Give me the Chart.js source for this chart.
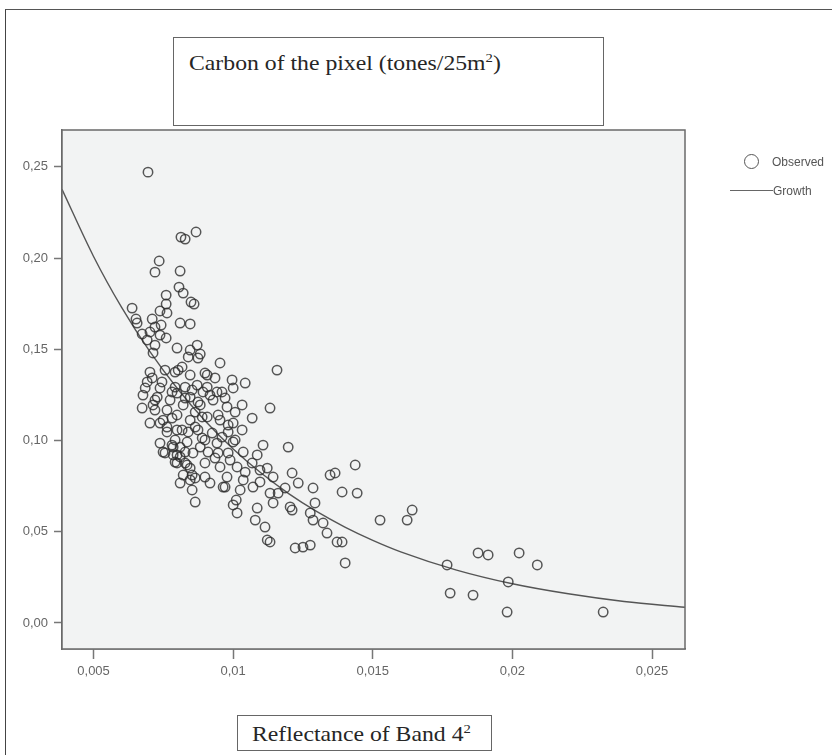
<!DOCTYPE html>
<html>
<head>
<meta charset="utf-8">
<script src="https://cdn.jsdelivr.net/npm/chart.js@4"></script>
<style>
  body { margin: 0; background: #fff; overflow: hidden; }
  #wrap { position: relative; width: 832px; height: 755px; overflow: hidden; }
  #frame { position: absolute; left: 5px; top: 9px; width: 900px; height: 900px;
           border-left: 1.5px solid #444; border-top: 1.5px solid #555; }
  canvas { position: absolute; left: 0; top: 0; }
  .box { position: absolute; border: 1.5px solid #666; background: #fff;
         font-family: "Liberation Serif", "DejaVu Serif", serif; color: #262626; }
  .box span { position: absolute; white-space: nowrap; transform: scaleX(1.13); transform-origin: left top; }
  #title { left: 173px; top: 37px; width: 429px; height: 87px; font-size: 21px; }
  #title span { left: 15px; top: 12px; }
  #xlabel { left: 237px; top: 715px; width: 253px; height: 34px; font-size: 21px; }
  #xlabel span { left: 14px; top: 5px; }
  sup { font-size: 13px; }
  .leg { position: absolute; font-family: "Liberation Sans Narrow", "Liberation Sans", sans-serif;
         font-size: 12px; color: #555; white-space: nowrap; line-height: 14px; }
  #legDot { position: absolute; left: 744px; top: 154px; width: 13px; height: 13px;
            border: 1.5px solid #555; border-radius: 50%; }
  #legLine { position: absolute; left: 730px; top: 190px; width: 43px; height: 0;
             border-top: 1.3px solid #666; }
</style>
</head>
<body>
<div id="wrap">
  <div id="frame"></div>
  <canvas id="chart" width="832" height="755"></canvas>
  <div class="box" id="title"><span>Carbon of the pixel (tones/25m<sup>2</sup>)</span></div>
  <div class="box" id="xlabel"><span>Reflectance of Band 4<sup>2</sup></span></div>
  <div id="legDot"></div>
  <div class="leg" style="left:772px; top:155px;">Observed</div>
  <div id="legLine"></div>
  <div class="leg" style="left:773px; top:184px;">Growth</div>
</div>
<script>
// observed pixels: [reflectance of band 4 squared, carbon]
const observed = [
  [0.00695, 0.2471], [0.00813, 0.2115], [0.00828, 0.2104], [0.00867, 0.2143],
  [0.00735, 0.1984], [0.00720, 0.1923], [0.00810, 0.1929], [0.00806, 0.1841],
  [0.00821, 0.1808], [0.00760, 0.1797], [0.00849, 0.1759], [0.00860, 0.1748],
  [0.00760, 0.1748], [0.00638, 0.1726], [0.00738, 0.1710], [0.00763, 0.1699],
  [0.00652, 0.1666], [0.00710, 0.1666], [0.00810, 0.1644], [0.00846, 0.1639],
  [0.00720, 0.1622], [0.00702, 0.1595], [0.00738, 0.1578], [0.00674, 0.1584],
  [0.00760, 0.1562], [0.00692, 0.1551], [0.00720, 0.1523], [0.00799, 0.1507],
  [0.00846, 0.1496], [0.00713, 0.1480], [0.00656, 0.1644], [0.00742, 0.1633],
  [0.00871, 0.1523], [0.00882, 0.1474], [0.00839, 0.1458], [0.00874, 0.1452],
  [0.00953, 0.1425], [0.01157, 0.1386], [0.00702, 0.1375], [0.00756, 0.1386],
  [0.00803, 0.1386], [0.00846, 0.1359], [0.00907, 0.1359], [0.00692, 0.1321],
  [0.00745, 0.1321], [0.00792, 0.1293], [0.00871, 0.1304], [0.00935, 0.1343],
  [0.00996, 0.1332], [0.01043, 0.1315], [0.00677, 0.1249], [0.00728, 0.1238],
  [0.00799, 0.1260], [0.00846, 0.1238], [0.00892, 0.1266], [0.00942, 0.1266],
  [0.01000, 0.1288], [0.00674, 0.1178], [0.00713, 0.1195], [0.00763, 0.1167],
  [0.00821, 0.1195], [0.00882, 0.1195], [0.00928, 0.1222], [0.00978, 0.1184],
  [0.01032, 0.1195], [0.01132, 0.1178], [0.00702, 0.1096], [0.00749, 0.1112],
  [0.00799, 0.1140], [0.00846, 0.1112], [0.00907, 0.1129], [0.00953, 0.1112],
  [0.01000, 0.1096], [0.01068, 0.1123], [0.00763, 0.1047], [0.00817, 0.1058],
  [0.00874, 0.1058], [0.00925, 0.1041], [0.00982, 0.1047], [0.00738, 0.0986],
  [0.00781, 0.0975], [0.00835, 0.0992], [0.00889, 0.1014], [0.00942, 0.0986],
  [0.01000, 0.0992], [0.01107, 0.0975], [0.01197, 0.0964], [0.00756, 0.0932],
  [0.00810, 0.0910], [0.00856, 0.0932], [0.00910, 0.0937], [0.00982, 0.0932],
  [0.01036, 0.0937], [0.01086, 0.0921], [0.00799, 0.0877], [0.00846, 0.0849],
  [0.00899, 0.0877], [0.00953, 0.0855], [0.01014, 0.0855], [0.01068, 0.0877],
  [0.01122, 0.0849], [0.00810, 0.0767], [0.00864, 0.0795], [0.00917, 0.0767],
  [0.00978, 0.0800], [0.01036, 0.0784], [0.01096, 0.0773], [0.01143, 0.0800],
  [0.01211, 0.0822], [0.00853, 0.0729], [0.00864, 0.0663], [0.00964, 0.0745],
  [0.01025, 0.0729], [0.01071, 0.0745], [0.01132, 0.0712], [0.01186, 0.0740],
  [0.01000, 0.0647], [0.01014, 0.0603], [0.01086, 0.0630], [0.01143, 0.0658],
  [0.01211, 0.0619], [0.00785, 0.0964], [0.00799, 0.0921], [0.00828, 0.0877],
  [0.01079, 0.0564], [0.01114, 0.0526], [0.01122, 0.0455], [0.01011, 0.0674],
  [0.01233, 0.0767], [0.01286, 0.0740], [0.01293, 0.0658], [0.01347, 0.0811],
  [0.01365, 0.0822], [0.01437, 0.0866], [0.01390, 0.0718], [0.01444, 0.0712],
  [0.01204, 0.0636], [0.01276, 0.0603], [0.01286, 0.0564], [0.01322, 0.0548],
  [0.01336, 0.0493], [0.01372, 0.0444], [0.01390, 0.0444], [0.01222, 0.0411],
  [0.01250, 0.0416], [0.01276, 0.0427], [0.01132, 0.0444], [0.01401, 0.0329],
  [0.01526, 0.0564], [0.01623, 0.0564], [0.01641, 0.0619], [0.01766, 0.0318],
  [0.01877, 0.0384], [0.01913, 0.0373], [0.02024, 0.0384], [0.02089, 0.0318],
  [0.01985, 0.0225], [0.01777, 0.0164], [0.01859, 0.0153], [0.01981, 0.0060],
  [0.02325, 0.0060], [0.01161, 0.0712], [0.00710, 0.1343], [0.00792, 0.1375],
  [0.00817, 0.1403], [0.00720, 0.1222], [0.00720, 0.1167], [0.00781, 0.1123],
  [0.00738, 0.1096], [0.00763, 0.1074], [0.00799, 0.1058], [0.00810, 0.0964],
  [0.00749, 0.0937], [0.00785, 0.0921], [0.00828, 0.0937], [0.00792, 0.0882],
  [0.00835, 0.0866], [0.00821, 0.0811], [0.00853, 0.0811], [0.00685, 0.1288],
  [0.00738, 0.1288], [0.00781, 0.1266], [0.00828, 0.1293], [0.00899, 0.1370],
  [0.00853, 0.1277], [0.00907, 0.1293], [0.00960, 0.1266], [0.00874, 0.1211],
  [0.00889, 0.1129], [0.00946, 0.1140], [0.01007, 0.1156], [0.00864, 0.1074],
  [0.00982, 0.1085], [0.01032, 0.1058], [0.00899, 0.1003], [0.00960, 0.1019],
  [0.01007, 0.1003], [0.00946, 0.0932], [0.00846, 0.0784], [0.00899, 0.0800],
  [0.00971, 0.0745], [0.00828, 0.1233], [0.00774, 0.1222], [0.00864, 0.1156],
  [0.00971, 0.1233], [0.00917, 0.1249], [0.00839, 0.1047], [0.00792, 0.1003],
  [0.00882, 0.0964], [0.00935, 0.0904], [0.00989, 0.0893], [0.01043, 0.0827],
  [0.01096, 0.0838]
];

// growth fit
const growthX = [0.00387, 0.005, 0.006, 0.007, 0.008, 0.009, 0.010, 0.011, 0.012,
                 0.013, 0.014, 0.015, 0.016, 0.018, 0.020, 0.022, 0.024, 0.02618];
const growthY = [0.2377, 0.2009, 0.1731, 0.1491, 0.1285, 0.1107, 0.0954, 0.0822, 0.0708,
                 0.0610, 0.0526, 0.0453, 0.0390, 0.0290, 0.0215, 0.0160, 0.0118, 0.0086];

const xTicks = [0.005, 0.01, 0.015, 0.02, 0.025];
const xTickLabels = ['0,005', '0,01', '0,015', '0,02', '0,025'];
const yTicks = [0, 0.05, 0.10, 0.15, 0.20, 0.25];
const yTickLabels = ['0,00', '0,05', '0,10', '0,15', '0,20', '0,25'];

const plotBox = {
    id: 'plotBox',
    beforeDatasetsDraw(chart) {
        const a = chart.chartArea, ctx = chart.ctx;
        ctx.save();
        ctx.fillStyle = '#f2f3f3';
        ctx.fillRect(a.left, a.top, a.right - a.left, a.bottom - a.top);
        ctx.restore();
    },
    afterDraw(chart) {
        const a = chart.chartArea, ctx = chart.ctx;
        ctx.save();
        ctx.strokeStyle = '#6a6a6a';
        ctx.lineWidth = 1.5;
        ctx.strokeRect(a.left, a.top, a.right - a.left, a.bottom - a.top);
        ctx.restore();
    }
};

const tickFont = { family: '"Liberation Sans", sans-serif', size: 13 };

new Chart(document.getElementById('chart'), {
    type: 'scatter',
    data: {
        datasets: [{
            label: 'Observed',
            data: observed.map(p => ({ x: p[0], y: p[1] })),
            pointStyle: 'circle',
            pointRadius: 4.7,
            borderWidth: 1.5,
            borderColor: 'rgba(45,45,45,0.8)',
            backgroundColor: 'rgba(0,0,0,0)'
        }, {
            label: 'Growth',
            type: 'line',
            data: growthX.map((x, i) => ({ x: x, y: growthY[i] })),
            borderColor: '#555',
            borderWidth: 1.4,
            pointRadius: 0,
            cubicInterpolationMode: 'monotone',
            fill: false
        }]
    },
    options: {
        responsive: false,
        animation: false,
        layout: { padding: { left: 12, top: 130, right: 147, bottom: 66 } },
        plugins: { legend: { display: false }, tooltip: { enabled: false } },
        scales: {
            x: {
                type: 'linear',
                min: 0.00387,
                max: 0.02618,
                afterFit: s => { s.height = 40; },
                afterBuildTicks: s => { s.ticks = xTicks.map(v => ({ value: v })); },
                grid: { drawOnChartArea: false, tickLength: 10, color: '#777', tickWidth: 1.5 },
                border: { display: true, color: '#6a6a6a', width: 1.5 },
                ticks: {
                    color: '#666', font: tickFont, padding: 5, maxRotation: 0,
                    callback: v => xTickLabels[xTicks.indexOf(v)]
                }
            },
            y: {
                min: -0.01425,
                max: 0.2702,
                afterFit: s => { s.width = 50; },
                afterBuildTicks: s => { s.ticks = yTicks.map(v => ({ value: v })); },
                grid: { drawOnChartArea: false, tickLength: 8, color: '#777', tickWidth: 1.5 },
                border: { display: true, color: '#6a6a6a', width: 1.5 },
                ticks: {
                    color: '#666', font: tickFont, padding: 6,
                    callback: v => yTickLabels[yTicks.indexOf(v)]
                }
            }
        }
    },
    plugins: [plotBox]
});
</script>
</body>
</html>
